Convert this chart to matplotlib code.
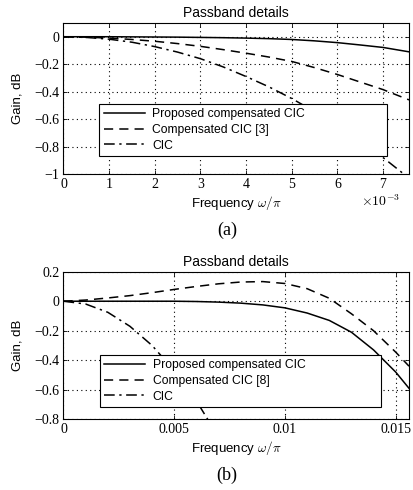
import matplotlib
matplotlib.use("Agg")
import matplotlib.pyplot as plt
from matplotlib.ticker import FuncFormatter

plt.rcParams['font.family'] = ['Liberation Sans', 'DejaVu Sans']
plt.rcParams['mathtext.fontset'] = 'cm'
plt.rcParams['axes.unicode_minus'] = True

# (a) passband details, frequency in units of 1e-3
freq_a = [0, 0.5, 1.0, 1.5, 2.0, 2.5, 3.0, 3.5, 4.0, 4.5, 5.0, 5.5, 6.0, 6.5, 7.0, 7.57]
prop_a = [0, 0, 0, -0.001, -0.002, -0.003, -0.005, -0.007, -0.01, -0.014, -0.02, -0.03, -0.043, -0.06, -0.078, -0.11]
comp_a = [0, -0.003, -0.01, -0.02, -0.033, -0.05, -0.07, -0.094, -0.12, -0.148, -0.18, -0.225, -0.275, -0.33, -0.385, -0.46]
cic_a = [0, -0.005, -0.018, -0.04, -0.072, -0.112, -0.16, -0.22, -0.29, -0.365, -0.45, -0.545, -0.65, -0.76, -0.88, -1.03]

# (b)
freq_b = [0, 0.001, 0.002, 0.003, 0.004, 0.005, 0.006, 0.007, 0.008, 0.009, 0.010,
          0.011, 0.012, 0.013, 0.014, 0.015, 0.0156]
prop_b = [0, 0, 0, 0, 0, 0, -0.002, -0.006, -0.013, -0.025, -0.045, -0.08, -0.13, -0.21, -0.33, -0.48, -0.59]
comp_b = [0, 0.008, 0.022, 0.038, 0.058, 0.08, 0.1, 0.118, 0.13, 0.133, 0.12, 0.085, 0.02, -0.085, -0.2, -0.345, -0.44]
freq_cic_b = [0, 0.001, 0.002, 0.003, 0.004, 0.005, 0.006, 0.007]
cic_b = [0, -0.019, -0.075, -0.17, -0.3, -0.47, -0.675, -0.92]

labels_a = ['Proposed compensated CIC', 'Compensated CIC [3]', 'CIC']
labels_b = ['Proposed compensated CIC', 'Compensated CIC [8]', 'CIC']

W, H = 414, 490
fig = plt.figure(figsize=(W / 100, H / 100), dpi=100)
ax1 = fig.add_axes([63.5 / W, 1 - 174 / H, 345.5 / W, 151 / H])
ax2 = fig.add_axes([63.5 / W, 1 - 419.3 / H, 345.5 / W, 147.6 / H])

serif = 'Liberation Serif'
dash = (0, (6, 4))
dashdot = (0, (7, 3, 1.5, 3))


def style(ax):
    ax.grid(True, color='black', linestyle=(0, (1, 3)), linewidth=0.8)
    ax.tick_params(direction='in', length=3, width=0.6, labelsize=10, pad=3,
                   top=True, right=True)
    for lab in ax.get_xticklabels() + ax.get_yticklabels():
        lab.set_family(serif)
    for s in ax.spines.values():
        s.set_linewidth(0.8)
    ax.set_title('Passband details', fontsize=10, pad=4)
    ax.set_ylabel('Gain, dB', fontsize=9.5, labelpad=8)
    ax.set_xlabel(r'Frequency $\omega/\pi$', fontsize=9.5, labelpad=2)


def add_legend(ax, labels, box):
    leg = ax.legend(labels, loc='lower left', bbox_to_anchor=box, mode='expand',
                    fontsize=8.7, frameon=True, fancybox=False, edgecolor='black',
                    framealpha=1, handlelength=3.4, borderpad=0.35, labelspacing=0.3,
                    handletextpad=0.6, borderaxespad=0)
    leg.get_frame().set_linewidth(0.8)


# top panel
fa = [f * 1e-3 for f in freq_a]
ax1.plot(fa, prop_a, color='black', lw=1.1)
ax1.plot(fa, comp_a, color='black', lw=1.1, linestyle=dash)
ax1.plot(fa, cic_a, color='black', lw=1.1, linestyle=dashdot)
ax1.set_xlim(0, 7.57e-3)
ax1.set_ylim(-1, 0.1)
ax1.set_xticks([i * 1e-3 for i in range(8)])
ax1.set_yticks([0, -0.2, -0.4, -0.6, -0.8, -1])
ax1.xaxis.set_major_formatter(FuncFormatter(lambda v, p: '%d' % round(v * 1e3)))
ax1.yaxis.set_major_formatter(FuncFormatter(
    lambda v, p: '0' if abs(v) < 1e-9 else ('\u22121' if abs(v + 1) < 1e-9 else ('%.1f' % v).replace('-', '\u2212'))))
style(ax1)
add_legend(ax1, labels_a, (0.104, 0.12, 0.832, 0.29))
ax1.text(0.975, -0.178, r'$\times10^{-3}$', transform=ax1.transAxes, ha='right', va='center', fontsize=10)
fig.text(227 / W, 1 - 230 / H, '(a)', ha='center', va='center', fontsize=13, family=serif)

# bottom panel
ax2.plot(freq_b, prop_b, color='black', lw=1.1)
ax2.plot(freq_b, comp_b, color='black', lw=1.1, linestyle=dash)
ax2.plot(freq_cic_b, cic_b, color='black', lw=1.1, linestyle=dashdot)
ax2.set_xlim(0, 0.0156)
ax2.set_ylim(-0.8, 0.2)
ax2.set_xticks([0, 0.005, 0.01, 0.015])
ax2.set_yticks([0.2, 0, -0.2, -0.4, -0.6, -0.8])
ax2.xaxis.set_major_formatter(FuncFormatter(lambda v, p: '0' if v == 0 else ('%g' % v)))
ax2.yaxis.set_major_formatter(FuncFormatter(
    lambda v, p: '0' if abs(v) < 1e-9 else ('%.1f' % v).replace('-', '\u2212')))
style(ax2)
add_legend(ax2, labels_b, (0.106, 0.085, 0.813, 0.31))
fig.text(227 / W, 1 - 475 / H, '(b)', ha='center', va='center', fontsize=13, family=serif)

fig.savefig('out.png', dpi=100)
